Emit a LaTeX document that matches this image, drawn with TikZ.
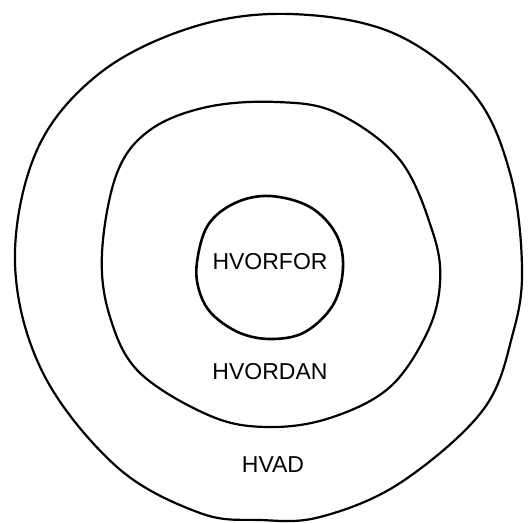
\documentclass[tikz,border=0pt]{standalone}
\usepackage{fontspec}
\setmainfont{Liberation Sans}
\begin{document}
\begin{tikzpicture}[x=1pt,y=-1pt,
  ring/.style={draw=black,line width=2.2pt,line join=round},
  lbl/.style={font=\fontsize{23}{26}\selectfont,inner sep=0pt}]
\useasboundingbox (0,0) rectangle (529,522);
% outer ring
\draw[ring] plot[smooth cycle,tension=0.6] coordinates {
 (290,14) (393,33) (473,93) (510,173) (522,267) (513,333) (483,410)
 (400,483) (320,517) (260,520) (200,513) (117,467) (43,373) (15,263)
 (37,150) (100,73) (193,27)};
% middle ring
\draw[ring] plot[smooth cycle,tension=0.6] coordinates {
 (277,102) (337,113) (400,160) (433,233) (440,283) (427,333) (390,387)
 (333,417) (273,427) (213,417) (140,373) (110,317) (102,253) (117,173)
 (150,130) (207,107)};
% inner ring
\draw[ring,line width=2.6pt] plot[smooth cycle,tension=0.6] coordinates {
 (270,196) (310,207) (336,234) (343,268) (333,305) (305,332) (272,339)
 (240,333) (212,314) (199,290) (197,262) (208,225) (235,203)};
\node[lbl] (hvorfor) at (270,262) {HVORFOR};
\node[lbl] (hvordan) at (270,372) {HVORDAN};
\node[lbl] (hvad) at (273,465) {HVAD};
\end{tikzpicture}
\end{document}
